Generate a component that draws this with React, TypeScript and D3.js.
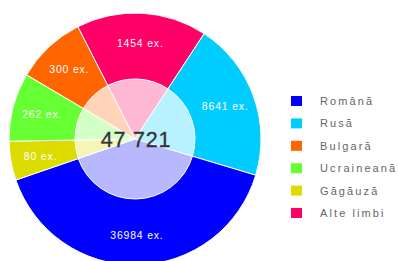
import * as d3 from "d3";
import { useEffect, useRef } from "react";

// legend order
const LANGS = ["Română", "Rusă", "Bulgară", "Ucraineană", "Găgăuză", "Alte limbi"];
const COPIES = [36984, 8641, 300, 262, 80, 1454];
// slice angles as drawn in the picture (degrees, not proportional to copies)
const SHARES = [144.3, 73.4, 32.4, 31.6, 18, 60.3];
const COLORS = ["#0000ff", "#00ccff", "#ff6600", "#66ff33", "#dcdc00", "#ff0066"];
// clockwise order of slices starting near 11 o'clock
const PIE_ORDER = [5, 1, 0, 4, 3, 2];

type Row = { lang: string; copies: number; share: number; color: string };

export default function App() {
  const ref = useRef<SVGSVGElement | null>(null);

  useEffect(() => {
    if (!ref.current) return;
    const width = 398;
    const height = 261;
    const svg = d3.select(ref.current);
    svg.selectAll("*").remove();
    svg.attr("viewBox", `0 0 ${width} ${height}`);

    const rows: Row[] = LANGS.map((lang, i) => ({
      lang,
      copies: COPIES[i],
      share: SHARES[i],
      color: COLORS[i],
    }));
    const ordered = PIE_ORDER.map((i) => rows[i]);

    const cx = 135;
    const cy = 139;
    const rOuter = 126;
    const rInner = 60;
    const deg = Math.PI / 180;

    const pie = d3
      .pie<Row>()
      .value((d) => d.share)
      .sort(null)
      .startAngle(-27 * deg)
      .endAngle(333 * deg);
    const arcs = pie(ordered);

    const outer = d3.arc<d3.PieArcDatum<Row>>().innerRadius(0).outerRadius(rOuter);
    const inner = d3.arc<d3.PieArcDatum<Row>>().innerRadius(0).outerRadius(rInner);
    const labelArc = d3.arc<d3.PieArcDatum<Row>>().innerRadius(66).outerRadius(rOuter);

    const g = svg.append("g").attr("transform", `translate(${cx},${cy})`);

    g.selectAll("path.outer")
      .data(arcs)
      .join("path")
      .attr("class", "outer")
      .attr("d", outer)
      .attr("fill", (d) => d.data.color)
      .attr("stroke", "#fff")
      .attr("stroke-width", 1);

    // pale inner disc
    g.selectAll("path.inner")
      .data(arcs)
      .join("path")
      .attr("class", "inner")
      .attr("d", inner)
      .attr("fill", (d) => d3.interpolateRgb(d.data.color, "#fff")(0.72))
      .attr("stroke", "#fff")
      .attr("stroke-width", 1);

    g.selectAll("text.lbl")
      .data(arcs)
      .join("text")
      .attr("class", "lbl")
      .attr("x", (d) => labelArc.centroid(d)[0])
      .attr("y", (d) => labelArc.centroid(d)[1] + 4)
      .attr("text-anchor", "middle")
      .attr("fill", "#fff")
      .attr("font-family", "'Liberation Sans', Arial, sans-serif")
      .attr("font-size", 10.5)
      .attr("letter-spacing", 0.8)
      .text((d) => `${d.data.copies} ex.`);

    const fmt = d3.formatLocale({ decimal: ",", thousands: " ", grouping: [3], currency: ["", ""] }).format(",d");
    g.append("text")
      .attr("x", 1)
      .attr("y", 7.5)
      .attr("text-anchor", "middle")
      .attr("fill", "#333")
      .attr("stroke", "#333")
      .attr("stroke-width", 0.3)
      .attr("font-family", "'Liberation Sans', Arial, sans-serif")
      .attr("font-size", 21.5)
      .attr("letter-spacing", 0.8)
      .text(fmt(d3.sum(COPIES)));

    const y = d3.scaleLinear().domain([0, 1]).range([101, 123.4]);
    const leg = svg
      .append("g")
      .selectAll("g")
      .data(rows)
      .join("g")
      .attr("transform", (_d, i) => `translate(291,${y(i)})`);
    leg
      .append("rect")
      .attr("x", 0)
      .attr("y", -5)
      .attr("width", 11)
      .attr("height", 10)
      .attr("fill", (d) => d.color);
    leg
      .append("text")
      .attr("x", 29)
      .attr("y", 4)
      .attr("fill", "#666")
      .attr("font-family", "'Liberation Sans', Arial, sans-serif")
      .attr("font-size", 11)
      .attr("letter-spacing", 2.1)
      .text((d) => d.lang);
  }, []);

  return (
    <svg
      ref={ref}
      width={398}
      height={261}
      style={{ position: "absolute", left: 0, top: 0, background: "#fff" }}
    />
  );
}
